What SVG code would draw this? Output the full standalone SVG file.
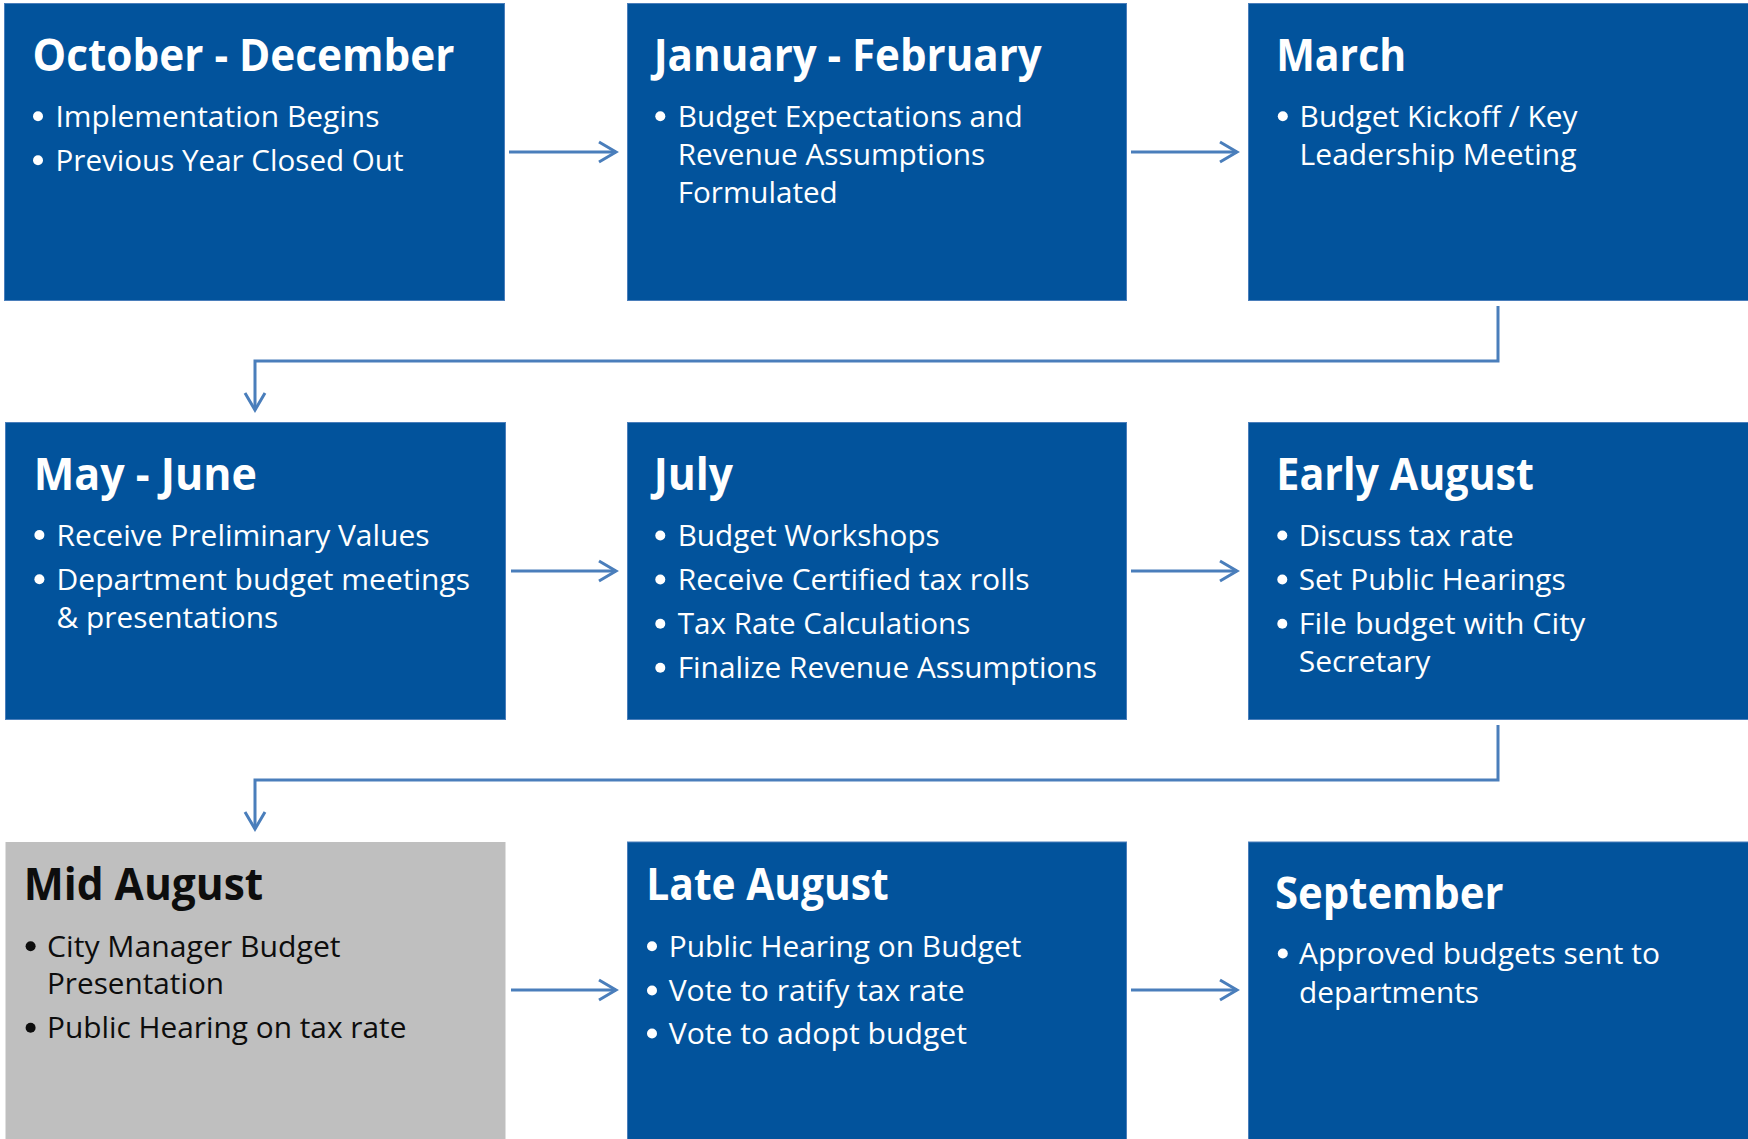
<svg xmlns="http://www.w3.org/2000/svg" width="1748" height="1139" viewBox="0 0 1748 1139">
  <style>
    .box { fill: #02539C; stroke: #4A7EBB; stroke-width: 1; }
    .box-grey { fill: #BFBFBF; }
    .title { font-family: "Open Sans", "Noto Sans", sans-serif; font-weight: 700; font-size: 45px; fill: #FFFFFF; }
    .item { font-family: "Open Sans", "Noto Sans", sans-serif; font-weight: 400; font-size: 29px; fill: #FFFFFF; }
    .dot { fill: #FFFFFF; }
    .dark .title, .dark .item { fill: #0D0D0D; }
    .dark .dot { fill: #0D0D0D; }
    .link { fill: none; stroke: #4A7EBB; stroke-width: 3; }
  </style>
  <defs>
    <marker id="arrow" viewBox="-20 -12 24 24" refX="0" refY="0" markerWidth="24" markerHeight="24" markerUnits="userSpaceOnUse" orient="auto">
      <path d="M-17,-10 L0,0 L-17,10" fill="none" stroke="#4A7EBB" stroke-width="3"/>
    </marker>
  </defs>

  <rect width="1748" height="1139" fill="#FFFFFF"/>

  <!-- Row 1 -->
  <g id="oct-dec">
    <rect class="box" x="4.5" y="3.5" width="500" height="297"/>
    <text class="title" x="32.5" y="70.7" textLength="422" lengthAdjust="spacingAndGlyphs">October - December</text>
    <circle class="dot" cx="38" cy="116.2" r="5"/>
    <text class="item" x="55.5" y="126.7" textLength="324" lengthAdjust="spacingAndGlyphs">Implementation Begins</text>
    <circle class="dot" cx="38" cy="160.2" r="5"/>
    <text class="item" x="55.5" y="170.7" textLength="348" lengthAdjust="spacingAndGlyphs">Previous Year Closed Out</text>
  </g>

  <g id="jan-feb">
    <rect class="box" x="627.5" y="3.5" width="499" height="297"/>
    <text class="title" x="653.7" y="70.7" textLength="388" lengthAdjust="spacingAndGlyphs">January - February</text>
    <circle class="dot" cx="660.3" cy="116.2" r="5"/>
    <text class="item" x="677.7" y="126.7" textLength="345" lengthAdjust="spacingAndGlyphs">Budget Expectations and</text>
    <text class="item" x="677.7" y="165" textLength="307.6" lengthAdjust="spacingAndGlyphs">Revenue Assumptions</text>
    <text class="item" x="677.7" y="202.7" textLength="160" lengthAdjust="spacingAndGlyphs">Formulated</text>
  </g>

  <g id="march">
    <rect class="box" x="1248.5" y="3.5" width="500" height="297"/>
    <text class="title" x="1276.2" y="70.7" textLength="130" lengthAdjust="spacingAndGlyphs">March</text>
    <circle class="dot" cx="1282.8" cy="116.2" r="5"/>
    <text class="item" x="1299.6" y="126.7" textLength="278" lengthAdjust="spacingAndGlyphs">Budget Kickoff / Key</text>
    <text class="item" x="1299.6" y="164.5" textLength="277" lengthAdjust="spacingAndGlyphs">Leadership Meeting</text>
  </g>

  <!-- Row 2 -->
  <g id="may-june">
    <rect class="box" x="5.5" y="422.5" width="500" height="297"/>
    <text class="title" x="33.7" y="489.5" textLength="223.3" lengthAdjust="spacingAndGlyphs">May - June</text>
    <circle class="dot" cx="39.4" cy="535" r="5"/>
    <text class="item" x="56.6" y="545.5" textLength="373" lengthAdjust="spacingAndGlyphs">Receive Preliminary Values</text>
    <circle class="dot" cx="39.4" cy="579.3" r="5"/>
    <text class="item" x="56.6" y="589.8" textLength="413.4" lengthAdjust="spacingAndGlyphs">Department budget meetings</text>
    <text class="item" x="56.6" y="627.7" textLength="221.6" lengthAdjust="spacingAndGlyphs">&amp; presentations</text>
  </g>

  <g id="july">
    <rect class="box" x="627.5" y="422.5" width="499" height="297"/>
    <text class="title" x="653.7" y="489.5" textLength="79.3" lengthAdjust="spacingAndGlyphs">July</text>
    <circle class="dot" cx="660.3" cy="535.5" r="5"/>
    <text class="item" x="677.7" y="546" textLength="262" lengthAdjust="spacingAndGlyphs">Budget Workshops</text>
    <circle class="dot" cx="660.3" cy="579.5" r="5"/>
    <text class="item" x="677.7" y="590" textLength="352" lengthAdjust="spacingAndGlyphs">Receive Certified tax rolls</text>
    <circle class="dot" cx="660.3" cy="623.8" r="5"/>
    <text class="item" x="677.7" y="634.3" textLength="292.7" lengthAdjust="spacingAndGlyphs">Tax Rate Calculations</text>
    <circle class="dot" cx="660.3" cy="667.8" r="5"/>
    <text class="item" x="677.7" y="678.3" textLength="419.3" lengthAdjust="spacingAndGlyphs">Finalize Revenue Assumptions</text>
  </g>

  <g id="early-august">
    <rect class="box" x="1248.5" y="422.5" width="500" height="297"/>
    <text class="title" x="1276.3" y="490" textLength="257.7" lengthAdjust="spacingAndGlyphs">Early August</text>
    <circle class="dot" cx="1282.3" cy="535.5" r="5"/>
    <text class="item" x="1298.7" y="546" textLength="215" lengthAdjust="spacingAndGlyphs">Discuss tax rate</text>
    <circle class="dot" cx="1282.3" cy="579.5" r="5"/>
    <text class="item" x="1298.7" y="590" textLength="267" lengthAdjust="spacingAndGlyphs">Set Public Hearings</text>
    <circle class="dot" cx="1282.3" cy="623.8" r="5"/>
    <text class="item" x="1298.7" y="634.3" textLength="286.7" lengthAdjust="spacingAndGlyphs">File budget with City</text>
    <text class="item" x="1298.7" y="672.3" textLength="131.7" lengthAdjust="spacingAndGlyphs">Secretary</text>
  </g>

  <!-- Row 3 -->
  <g id="mid-august" class="dark">
    <rect class="box-grey" x="5.5" y="842" width="500" height="298"/>
    <text class="title" x="23.7" y="900" textLength="239.6" lengthAdjust="spacingAndGlyphs">Mid August</text>
    <circle class="dot" cx="30.6" cy="946.2" r="5"/>
    <text class="item" x="47" y="956.7" textLength="293.6" lengthAdjust="spacingAndGlyphs">City Manager Budget</text>
    <text class="item" x="47" y="994.3" textLength="177" lengthAdjust="spacingAndGlyphs">Presentation</text>
    <circle class="dot" cx="30.6" cy="1027.8" r="5"/>
    <text class="item" x="47" y="1038.3" textLength="359.4" lengthAdjust="spacingAndGlyphs">Public Hearing on tax rate</text>
  </g>

  <g id="late-august">
    <rect class="box" x="627.5" y="842" width="499" height="298"/>
    <text class="title" x="646.3" y="900" textLength="242.4" lengthAdjust="spacingAndGlyphs">Late August</text>
    <circle class="dot" cx="652" cy="946.2" r="5"/>
    <text class="item" x="668.7" y="956.7" textLength="352.7" lengthAdjust="spacingAndGlyphs">Public Hearing on Budget</text>
    <circle class="dot" cx="652" cy="990.5" r="5"/>
    <text class="item" x="668.7" y="1001" textLength="296" lengthAdjust="spacingAndGlyphs">Vote to ratify tax rate</text>
    <circle class="dot" cx="652" cy="1033.5" r="5"/>
    <text class="item" x="668.7" y="1044" textLength="298.3" lengthAdjust="spacingAndGlyphs">Vote to adopt budget</text>
  </g>

  <g id="september">
    <rect class="box" x="1248.5" y="842" width="500" height="298"/>
    <text class="title" x="1275" y="909.3" textLength="228.4" lengthAdjust="spacingAndGlyphs">September</text>
    <circle class="dot" cx="1282.8" cy="953.5" r="5"/>
    <text class="item" x="1299" y="964" textLength="361" lengthAdjust="spacingAndGlyphs">Approved budgets sent to</text>
    <text class="item" x="1299" y="1002.7" textLength="180" lengthAdjust="spacingAndGlyphs">departments</text>
  </g>

  <!-- Connectors -->
  <g id="connectors">
    <path class="link" d="M509,152 H616" marker-end="url(#arrow)"/>
    <path class="link" d="M1131,152 H1237" marker-end="url(#arrow)"/>
    <path class="link" d="M1498,306 V361 H255 V410" marker-end="url(#arrow)"/>
    <path class="link" d="M511,571 H616" marker-end="url(#arrow)"/>
    <path class="link" d="M1131,571 H1237" marker-end="url(#arrow)"/>
    <path class="link" d="M1498,725 V780 H255 V829" marker-end="url(#arrow)"/>
    <path class="link" d="M511,990 H616" marker-end="url(#arrow)"/>
    <path class="link" d="M1131,990 H1237" marker-end="url(#arrow)"/>
  </g>
</svg>
